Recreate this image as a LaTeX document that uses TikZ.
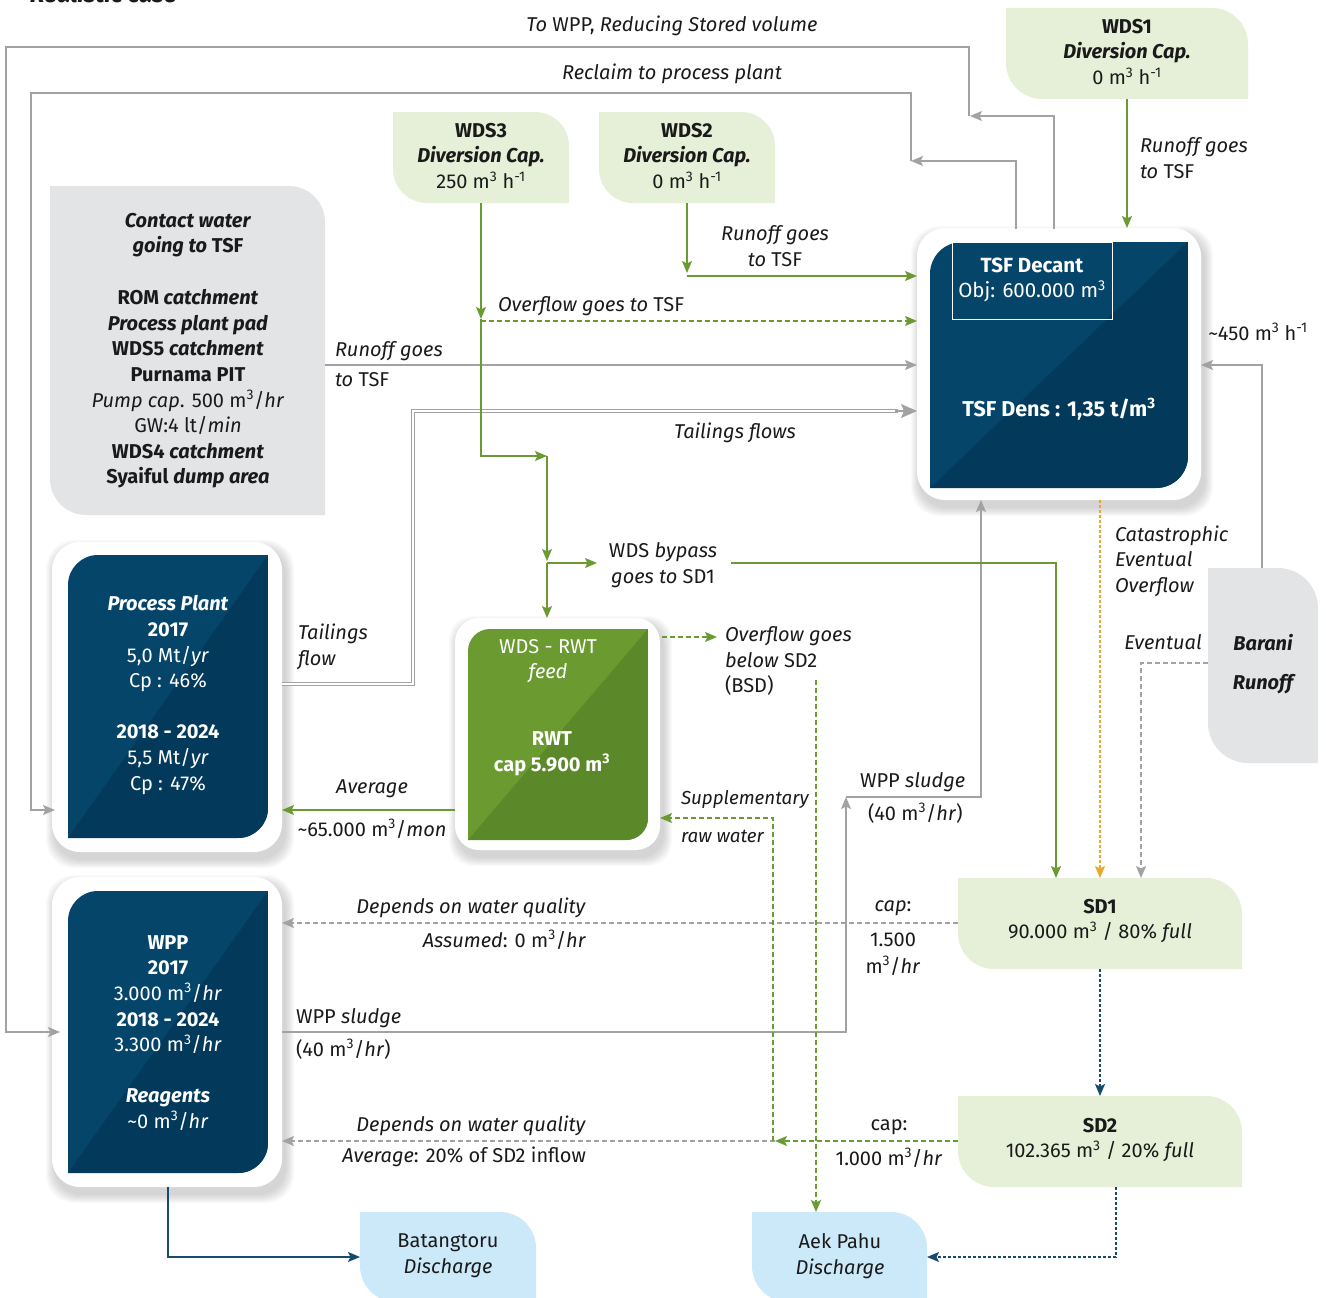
\documentclass[tikz,border=0pt]{standalone}
\usepackage{fontspec}
\setmainfont{Fira Sans}
\usetikzlibrary{arrows.meta}
\definecolor{gcol}{HTML}{6A9A32}
\definecolor{gfA}{HTML}{6B9A31}
\definecolor{gfB}{HTML}{5B8929}
\definecolor{lgreen}{HTML}{E6F0D8}
\definecolor{lgray}{HTML}{E3E4E6}
\definecolor{lblue}{HTML}{CCE9F9}
\definecolor{navyA}{HTML}{06456A}
\definecolor{navyB}{HTML}{03395A}
\definecolor{grayc}{HTML}{A2A2A4}
\definecolor{navyl}{HTML}{164B6C}
\definecolor{orangec}{HTML}{E8A92A}
\definecolor{txtc}{HTML}{1A1A1A}
\newcommand\fs{\fontsize{20}{25.6}\selectfont}
\newcommand\cub{\textsuperscript{3}}
\newcommand\pinv{\textsuperscript{-1}}
\tikzset{
  every node/.style={inner sep=0pt,outer sep=0pt,text=txtc,font=\fs},
  arw/.style={-{Stealth[length=12pt,width=10pt,inset=2.5pt]}},
  gline/.style={draw=gcol,line width=1.4pt},
  grline/.style={draw=grayc,line width=1.4pt},
  nline/.style={draw=navyl,line width=1.4pt},
  oline/.style={draw=orangec,line width=1.4pt},
  dashA/.style={dash pattern=on 5pt off 3pt},
  dashB/.style={dash pattern=on 3pt off 2pt},
  wt/.style={text=white},
  boxnode/.style={draw=none},
}
% card with soft shadow: name x1 y1 x2 y2 r
\newcommand\card[6]{%
  \foreach \s in {1,...,9}{%
    \fill[black,opacity=0.018,rounded corners=#6pt] ({#2-\s+3},{#3-\s+7}) rectangle ({#4+\s+3},{#5+\s+7});}
  \fill[white,rounded corners=#6pt] (#2,#3) rectangle (#4,#5);
  \node[boxnode,minimum width={(#4-#2)*1pt},minimum height={(#5-#3)*1pt}] (#1) at ({(#2+#4)/2},{(#3+#5)/2}) {};}
% leaf box (top-right and bottom-left rounded): name x1 y1 x2 y2 r colour
\newcommand\leafbox[7]{%
  \fill[#7] (#2,#3) -- ({#4-#6},#3) arc[start angle=-90,end angle=0,radius=#6] -- (#4,#5) -- ({#2+#6},#5) arc[start angle=90,end angle=180,radius=#6] -- cycle;
  \node[boxnode,minimum width={(#4-#2)*1pt},minimum height={(#5-#3)*1pt}] (#1) at ({(#2+#4)/2},{(#3+#5)/2}) {};}
% two-tone box (top-left and bottom-right rounded): name x1 y1 x2 y2 r colA colB
\newcommand\tonebox[8]{%
  \begin{scope}
  \clip (#2,{#3+#6}) arc[start angle=180,end angle=270,radius=#6] -- (#4,#3) -- (#4,{#5-#6}) arc[start angle=0,end angle=90,radius=#6] -- (#2,#5) -- cycle;
  \fill[#7] (#2,#3) rectangle (#4,#5);
  \fill[#8] (#2,#5) -- (#4,#3) -- (#4,#5) -- cycle;
  \end{scope}
  \node[boxnode,minimum width={(#4-#2)*1pt},minimum height={(#5-#3)*1pt}] (#1) at ({(#2+#4)/2},{(#3+#5)/2}) {};}
\begin{document}
\begin{tikzpicture}[x=1pt,y=-1pt]
\useasboundingbox (0,0) rectangle (1326,1298);
\node[anchor=base west,font=\fontsize{24}{28}\selectfont\bfseries\itshape] (title) at (30,3) {Realistic case};

% ---------- cards ----------
\card{tsfc}{917}{228}{1201}{500}{28}
\card{ppc}{52}{542}{282}{852}{28}
\card{rwtc}{455}{618}{660}{850}{24}
\card{wppc}{52}{877}{282}{1187}{28}

% ---------- boxes ----------
\leafbox{wds1}{1006}{8}{1248}{99}{36}{lgreen}
\leafbox{wds2}{599}{112}{775}{203}{34}{lgreen}
\leafbox{wds3}{393}{112}{569}{203}{34}{lgreen}
\leafbox{contact}{50}{186}{325}{515}{36}{lgray}
\leafbox{barani}{1208}{568}{1318}{763}{40}{lgray}
\leafbox{sd1}{958}{878}{1242}{969}{36}{lgreen}
\leafbox{sd2}{958}{1096}{1242}{1187}{36}{lgreen}
\leafbox{aek}{752}{1212}{927}{1302}{36}{lblue}
\leafbox{bat}{360}{1212}{536}{1302}{36}{lblue}
\tonebox{tsf}{930}{242}{1188}{488}{32}{navyA}{navyB}
\tonebox{pp}{68}{555}{268}{838}{30}{navyA}{navyB}
\tonebox{wpp}{68}{891}{268}{1173}{30}{navyA}{navyB}
\tonebox{rwt}{468}{629}{648}{840}{22}{gfA}{gfB}
\draw[white,line width=1pt] (952,242) rectangle (1112,319);

% ---------- coordinates ----------
\coordinate (topA1) at (1054,229);
\coordinate (topA2) at (1054,116);
\coordinate (topA3) at (970,116);
\coordinate (topA4) at (969,116);
\coordinate (topA5) at (969,47);
\coordinate (topA6) at (6,47);
\coordinate (topA7) at (6,1032);
\coordinate (wppIn) at (60,1032);
\coordinate (topB1) at (1016,229);
\coordinate (topB2) at (1016,161);
\coordinate (topB3) at (911,161);
\coordinate (topB5) at (911,93);
\coordinate (topB6) at (31,93);
\coordinate (topB7) at (31,810);
\coordinate (ppIn) at (55,810);
\coordinate (w2c) at (687,276);
\coordinate (w2t) at (687,273);
\coordinate (w3t) at (481,319);
\coordinate (w3a) at (481,321);
\coordinate (w3b) at (481,456);
\coordinate (w3c) at (547,456);
\coordinate (w3ct) at (547,561);
\coordinate (w3d) at (547,563);
\coordinate (byp) at (597,563);
\coordinate (bypE) at (731,563);
\coordinate (bypC) at (1056,563);
\coordinate (ct1) at (325,365);
\coordinate (tl1) at (282,684);
\coordinate (tl2) at (413,684);
\coordinate (tl3) at (413,411);
\coordinate (tl4) at (898,411);
\coordinate (br1) at (1262,568);
\coordinate (br2) at (1262,365);
\coordinate (ev1) at (1208,663);
\coordinate (ev2) at (1141,663);
\coordinate (sdw1) at (846,1032);
\coordinate (sdw2) at (846,797);
\coordinate (sdw3) at (981,797);
\coordinate (wpp1) at (168,1257);
\coordinate (sd2b) at (1116,1187);
\coordinate (sd2c) at (1116,1257);
\coordinate (mid1) at (775,1141);
\coordinate (sup1) at (773,1141);
\coordinate (sup2) at (773,818);
\coordinate (ovA) at (662,637);
\coordinate (ovB) at (717,637);
\coordinate (ovC) at (816,680);
\coordinate (avg1) at (455,810);

% ---------- gray connectors ----------
\draw[grline,arw] (topA1) -- (topA2) -- (topA3);
\draw[grline,arw] (topA4) -- (topA5) -- (topA6) -- (topA7) -- (wppIn);
\draw[grline,arw] (topB1) -- (topB2) -- (topB3);
\draw[grline,arw] (topB3) -- (topB5) -- (topB6) -- (topB7) -- (ppIn);
\draw[grline,arw] (ct1) -- (tsfc.west |- ct1);
\draw[draw=grayc,line width=1.1pt,double=white,double distance=2.2pt] (tl1) -- (tl2) -- (tl3) -- (tl4);
\draw[grline,-{Stealth[length=16pt,width=14pt,inset=3pt]}] (895,411) -- (tsfc.west |- tl3);
\draw[grline,arw] (br1) -- (br2) -- (tsfc.east |- br2);
\draw[grline,dashA,arw] (ev1) -- (ev2) -- (sd1.north -| ev2);
\draw[grline,arw] (wppc.east |- sdw1) -- (sdw1) -- (sdw2);
\draw[grline,arw] (sdw2) -- (sdw3) -- (tsfc.south -| sdw3);
\draw[grline,dashA,arw] (sd1.west |- 0,923) -- (wppc.east |- 0,923);
\draw[grline,dashA,arw] (mid1) -- (wppc.east |- mid1);

% ---------- green connectors ----------
\draw[gline,arw] (wds1.south) -- (wds1.south |- tsfc.north);
\draw[gline,arw] (wds2.south) -- (w2t);
\draw[gline,arw] (w2c) -- (tsfc.west |- w2c);
\draw[gline,arw] (wds3.south) -- (w3t);
\draw[gline,arw] (w3t) -- (w3b) -- (w3c);
\draw[gline,arw] (w3c) -- (w3ct);
\draw[gline,arw] (w3d) -- (rwtc.north -| w3d);
\draw[gline,arw] (w3d) -- (byp);
\draw[gline,dashA,arw] (w3a) -- (tsfc.west |- w3a);
\draw[gline,arw] (bypE) -- (bypC) -- (sd1.north -| bypC);
\draw[gline,arw] (avg1) -- (ppc.east |- avg1);
\draw[gline,dashA,arw] (ovA) -- (ovB);
\draw[gline,dashA,arw] (ovC) -- (aek.north -| ovC);
\draw[gline,dashA,arw] (sd2.west |- mid1) -- (mid1);
\draw[gline,dashA,arw] (sup1) -- (sup2) -- (rwtc.east |- sup2);

% ---------- orange / navy ----------
\draw[oline,dashB,arw] (tsfc.south -| sd1.north) -- (sd1.north);
\draw[nline,dashB,arw] (sd1.south) -- (sd2.north);
\draw[nline,dashB,arw] (sd2b) -- (sd2c) -- (aek.east |- sd2c);
\draw[nline,arw] (wppc.south -| wpp1) -- (wpp1) -- (bat.west |- wpp1);

% ---------- box texts ----------
\node[align=center] (wds1t) at (1127,52) {\textbf{WDS1}\\\textbf{\textit{Diversion Cap.}}\\0 m\cub{} h\pinv};
\node[align=center] (wds2t) at (687,156) {\textbf{WDS2}\\\textbf{\textit{Diversion Cap.}}\\0 m\cub{} h\pinv};
\node[align=center] (wds3t) at (481,156) {\textbf{WDS3}\\\textbf{\textit{Diversion Cap.}}\\250 m\cub{} h\pinv};
\node[align=center] (cont1) at (188,235) {\textbf{\textit{Contact water}}\\\textbf{\textit{going to} TSF}};
\node[align=center] (cont2) at (188,389) {\textbf{ROM \textit{catchment}}\\\textbf{\textit{Process plant pad}}\\\textbf{WDS5 \textit{catchment}}\\\textbf{Purnama PIT}\\\textit{Pump cap}. 500 m\cub/\textit{hr}\\GW:4 lt/\textit{min}\\\textbf{WDS4 \textit{catchment}}\\\textbf{Syaiful \textit{dump area}}};
\node[wt,align=center,font=\fontsize{20.5}{25}\selectfont] (tsft1) at (1032,280) {\textbf{TSF Decant}\\Obj: 600.000 m\cub};
\node[wt,font=\fontsize{21.5}{25}\selectfont\bfseries] (tsft2) at (1059,409) {TSF Dens : 1,35 t/m\cub};
\node[wt,align=center] (ppt) at (168,695) {\textbf{\textit{Process Plant}}\\\textbf{2017}\\5,0 Mt/\textit{yr}\\Cp : 46\%\\[25.6pt]\textbf{2018 - 2024}\\5,5 Mt/\textit{yr}\\Cp : 47\%};
\node[wt,align=center] (wppt) at (168,1033) {\textbf{WPP}\\\textbf{2017}\\3.000 m\cub/\textit{hr}\\\textbf{2018 - 2024}\\3.300 m\cub/\textit{hr}\\[25.6pt]\textbf{\textit{Reagents}}\\\textasciitilde0 m\cub/\textit{hr}};
\node[wt,align=center] (rwtt1) at (548,661) {WDS - RWT\\\textit{feed}};
\node[wt,align=center,font=\fs\bfseries] (rwtt2) at (552,754) {RWT\\cap 5.900 m\cub};
\node[align=center] (sd1t) at (1100,921) {\textbf{SD1}\\90.000 m\cub{} / 80\% \textit{full}};
\node[align=center] (sd2t) at (1100,1140) {\textbf{SD2}\\102.365 m\cub{} / 20\% \textit{full}};
\node[align=center] (aekt) at (840,1256) {Aek Pahu\\\textit{Discharge}};
\node[align=center] (batt) at (448,1256) {Batangtoru\\\textit{Discharge}};
\node[font=\fs\bfseries\itshape] (bar1) at (1263,643) {Barani};
\node[font=\fs\bfseries\itshape] (bar2) at (1263,684) {Runoff};

% ---------- connector labels ----------
\node (l1) at (672,26) {\textit{To} WPP, \textit{Reducing Stored volume}};
\node (l2) at (672,74) {\textit{Reclaim to process plant}};
\node[anchor=west,align=left] (l3) at (1140,158) {\textit{Runoff goes}\\\textit{to} TSF};
\node[align=center] (l4) at (775,246) {\textit{Runoff goes}\\\textit{to} TSF};
\node[anchor=west] (l5) at (498,306) {\textit{Overflow goes to} TSF};
\node[anchor=west] (l6) at (335,351) {\textit{Runoff goes}};
\node[anchor=west] (l7) at (335,380) {\textit{to} TSF};
\node (l8) at (735,433) {\textit{Tailings flows}};
\node (l9) at (1258,332) {\textasciitilde450 m\cub{} h\pinv};
\node[align=center] (l10) at (663,565) {WDS \textit{bypass}\\\textit{goes to} SD1};
\node[anchor=west,align=left] (l11) at (298,647) {\textit{Tailings}\\\textit{flow}};
\node[anchor=west,align=left] (l12) at (725,661) {\textit{Overflow goes}\\\textit{below} SD2\\(BSD)};
\node[anchor=west,align=left] (l13) at (1115,561) {\textit{Catastrophic}\\\textit{Eventual}\\\textit{Overflow}};
\node (l14) at (1163,642) {\textit{Eventual}};
\node (l15) at (372,789) {\textit{Average}};
\node (l16) at (372,829) {\textasciitilde65.000 m\cub/\textit{mon}};
\node[anchor=west,font=\fontsize{18.8}{24}\selectfont] (l17) at (681,799) {\textit{Supplementary}};
\node[anchor=west,font=\fontsize{18.8}{24}\selectfont] (l18) at (681,836) {\textit{raw water}};
\node[anchor=west] (l19) at (860,782) {WPP \textit{sludge}};
\node[anchor=west] (l20) at (868,813) {(40 m\cub/\textit{hr})};
\node[anchor=east] (l21) at (586,908) {\textit{Depends on water quality}};
\node[anchor=east] (l22) at (586,940) {\textit{Assumed}: 0 m\cub/\textit{hr}};
\node (l23) at (893,908) {\textit{cap}:};
\node (l24) at (893,940) {1.500};
\node (l25) at (893,966) {m\cub/\textit{hr}};
\node[anchor=west] (l26) at (296,1018) {WPP \textit{sludge}};
\node[anchor=west] (l27) at (296,1049) {(40 m\cub/\textit{hr})};
\node[anchor=east] (l28) at (586,1126) {\textit{Depends on water quality}};
\node[anchor=east] (l29) at (586,1157) {\textit{Average}: 20\% of SD2 inflow};
\node (l30) at (889,1127) {cap:};
\node (l31) at (889,1158) {1.000 m\cub/\textit{hr}};
\end{tikzpicture}
\end{document}
